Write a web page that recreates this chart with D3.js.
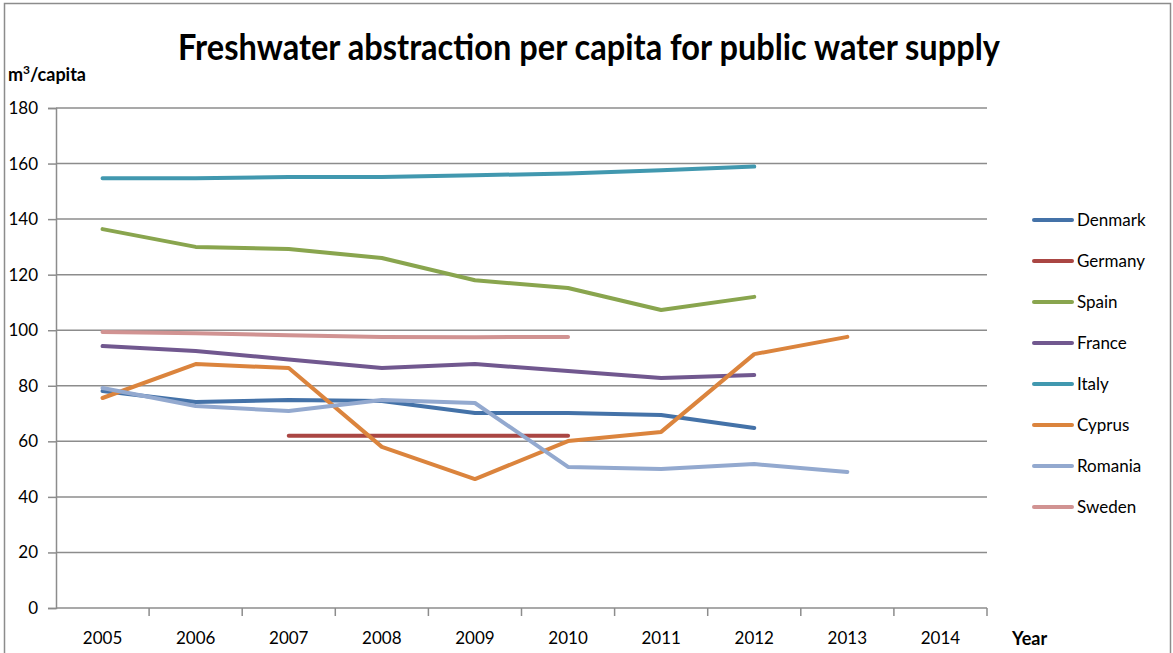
<!DOCTYPE html>
<html>
<head>
<meta charset="utf-8">
<script src="https://cdn.jsdelivr.net/npm/d3@7"></script>
<style>
  html, body { margin: 0; padding: 0; background: #fff; }
  svg { display: block; }
  text { font-family: Lato, "Open Sans", sans-serif; fill: #000; }
</style>
</head>
<body>
<svg id="chart" width="1173" height="653"></svg>
<script>
// Categories (years) and tick values
const years = ["2005", "2006", "2007", "2008", "2009", "2010", "2011", "2012", "2013", "2014"];
const yTicks = [0, 20, 40, 60, 80, 100, 120, 140, 160, 180];

// Series: m3 per capita, null where no data
const denmark = [78.1, 74.2, 74.9, 74.5, 70.2, 70.2, 69.5, 64.8, null, null];
const germany = [null, null, 62, 62, 62, 62, null, null, null, null];
const spain   = [136.4, 130, 129.2, 126, 118, 115.2, 107.3, 112, null, null];
const france  = [94.3, 92.5, 89.5, 86.4, 87.8, 85.3, 82.8, 83.9, null, null];
const italy   = [154.7, 154.7, 155.2, 155.2, 155.8, 156.4, 157.6, 158.9, null, null];
const cyprus  = [75.6, 87.8, 86.4, 58, 46.4, 60.1, 63.4, 91.4, 97.6, null];
const romania = [79.2, 72.7, 70.9, 74.9, 73.8, 50.8, 50, 51.8, 49, null];
const sweden  = [99.4, 98.9, 98.2, 97.6, 97.5, 97.6, null, null, null, null];

const seriesNames  = ["Denmark", "Germany", "Spain", "France", "Italy", "Cyprus", "Romania", "Sweden"];
const seriesValues = [denmark, germany, spain, france, italy, cyprus, romania, sweden];
const seriesColors = ["#4472a8", "#aa4643", "#89a54e", "#71588f", "#4198af", "#db843d", "#93a9cf", "#d19392"];

const svg = d3.select("#chart");
const plot = { left: 56, right: 987, top: 108, bottom: 608 };

// Outer chart border
svg.append("rect")
  .attr("x", 4.5).attr("y", 3.5)
  .attr("width", 1166).attr("height", 660)
  .attr("fill", "#fff").attr("stroke", "#8c8c8c").attr("stroke-width", 1.5);

const x = d3.scaleBand().domain(years).range([plot.left, plot.right]).padding(0);
const y = d3.scaleLinear().domain([0, 180]).range([plot.bottom, plot.top]);

// Horizontal gridlines
svg.append("g")
  .selectAll("line")
  .data(yTicks.filter(d => d > 0))
  .join("line")
  .attr("x1", plot.left).attr("x2", plot.right)
  .attr("y1", d => y(d)).attr("y2", d => y(d))
  .attr("stroke", "#8c8c8c").attr("stroke-width", 1.5);

// Y axis
const yAxis = svg.append("g")
  .attr("transform", `translate(${plot.left},0)`)
  .call(d3.axisLeft(y).tickValues(yTicks).tickSize(8).tickPadding(10));
yAxis.select(".domain").attr("stroke", "#8c8c8c").attr("stroke-width", 1.5);
yAxis.selectAll(".tick line").attr("stroke", "#8c8c8c").attr("stroke-width", 1.5);
yAxis.selectAll(".tick text")
  .style("font-family", "Lato, sans-serif").style("font-size", "17px").attr("fill", "#000");

// X axis: ticks at category boundaries, labels at category centres
const xAxisG = svg.append("g").attr("transform", `translate(0,${plot.bottom})`);
xAxisG.append("line")
  .attr("x1", plot.left).attr("x2", plot.right).attr("y1", 0).attr("y2", 0)
  .attr("stroke", "#8c8c8c").attr("stroke-width", 1.5);
const boundaries = years.map(d => x(d)).concat([x(years[years.length - 1]) + x.bandwidth()]);
xAxisG.selectAll("line.tk")
  .data(boundaries.slice(1))
  .join("line").attr("class", "tk")
  .attr("x1", d => d).attr("x2", d => d).attr("y1", 0).attr("y2", 8)
  .attr("stroke", "#8c8c8c").attr("stroke-width", 1.5);
xAxisG.selectAll("text")
  .data(years)
  .join("text")
  .attr("x", d => x(d) + x.bandwidth() / 2)
  .attr("y", 36)
  .attr("text-anchor", "middle")
  .style("font-size", "17px")
  .text(d => d);

// Axis titles
const yLabel = svg.append("text")
  .attr("x", 8).attr("y", 81)
  .style("font-size", "18px").style("font-weight", "bold");
yLabel.append("tspan").text("m");
yLabel.append("tspan").attr("dy", -7).style("font-size", "12px").text("3");
yLabel.append("tspan").attr("dy", 7).text("/capita");

svg.append("text")
  .attr("x", 1012).attr("y", 645)
  .style("font-size", "18px").style("font-weight", "bold")
  .text("Year");

// Title
svg.append("text")
  .attr("x", 589).attr("y", 60)
  .attr("text-anchor", "middle")
  .attr("textLength", 822).attr("lengthAdjust", "spacingAndGlyphs")
  .style("font-size", "36px").style("font-weight", "bold")
  .text("Freshwater abstraction per capita for public water supply");

// Series lines
const line = d3.line()
  .defined(d => d.v != null)
  .x(d => x(d.year) + x.bandwidth() / 2)
  .y(d => y(d.v));

const linesG = svg.append("g");
seriesNames.forEach((name, i) => {
  const pts = years.map((yr, j) => ({ year: yr, v: seriesValues[i][j] }));
  linesG.append("path")
    .datum(pts)
    .attr("d", line)
    .attr("fill", "none")
    .attr("stroke", seriesColors[i])
    .attr("stroke-width", 4)
    .attr("stroke-linecap", "round")
    .attr("stroke-linejoin", "round");
});

// Legend
const legend = svg.append("g");
seriesNames.forEach((name, i) => {
  const ly = 220 + i * 41;
  legend.append("line")
    .attr("x1", 1034).attr("x2", 1072).attr("y1", ly).attr("y2", ly)
    .attr("stroke", seriesColors[i]).attr("stroke-width", 4).attr("stroke-linecap", "round");
  legend.append("text")
    .attr("x", 1077).attr("y", ly + 6)
    .style("font-size", "17px")
    .text(name);
});
</script>
</body>
</html>
